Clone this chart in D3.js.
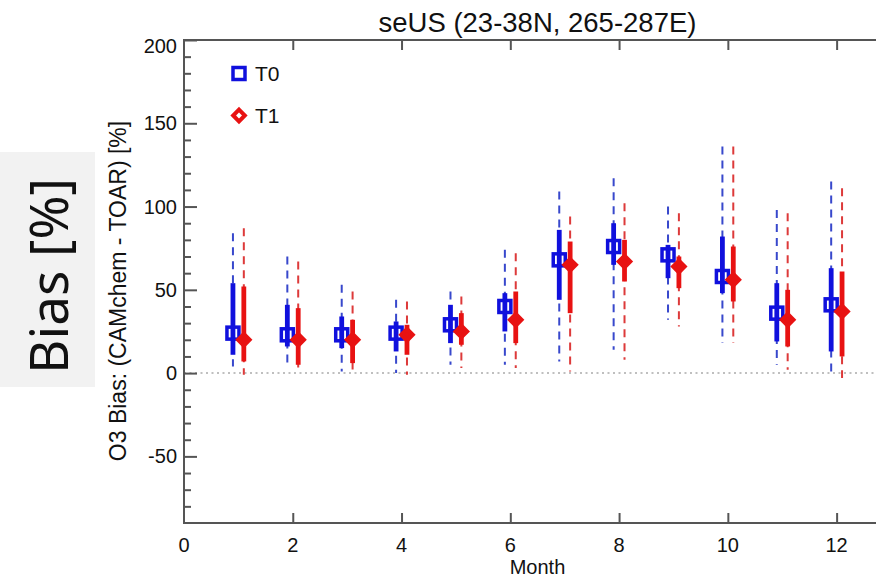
<!DOCTYPE html>
<html>
<head>
<meta charset="utf-8">
<script src="https://cdn.jsdelivr.net/npm/d3@7"></script>
<style>
    body { margin: 0; background: #fff; }
    text { font-family: "Liberation Sans", Arial, Helvetica, sans-serif; }
</style>
</head>
<body>
<div id="chart"></div>
<script>
// values (percent bias)
var months = [1, 2, 3, 4, 5, 6, 7, 8, 9, 10, 11, 12];
var t0Mid = [24, 23, 23, 24, 29, 40, 68, 76, 71, 58, 36, 41];
var t0Q1 = [11, 16, 15, 13, 18, 25, 44, 65, 57, 48, 19, 13];
var t0Q3 = [54, 41, 34, 31, 41, 48, 86, 90, 77, 82, 54, 63];
var t0Lo = [4, 5, 1, 0, 5, 5, 7, 14, 32, 18, 5, 0];
var t0Hi = [84, 70, 53, 44, 49, 74, 109, 117, 100, 136, 98, 115];

var t1Mid = [20, 20, 20, 23, 25, 32, 65, 67, 64, 56, 32, 37];
var t1Q1 = [7, 5, 6, 11, 17, 18, 36, 55, 51, 43, 16, 10];
var t1Q3 = [52, 39, 32, 29, 36, 49, 79, 80, 70, 76, 50, 61];
var t1Lo = [-1, 3, -1, -1, 3, 3, 1, 8, 28, 18, 2, -3];
var t1Hi = [87, 67, 49, 43, 46, 72, 94, 102, 96, 136, 96, 111];

var xTicks = [0, 2, 4, 6, 8, 10, 12];
var yTicks = [-50, 0, 50, 100, 150, 200];

const W = 876, H = 577;
const margin = {top: 40, left: 184},
    width = 707,
    height = 483;

const svg = d3.select("#chart")
    .append("svg")
    .attr("width", W)
    .attr("height", H);

const x = d3.scaleLinear().domain([0, 13]).range([margin.left, margin.left + width]);
const y = d3.scaleLinear().domain([-90, 200]).range([margin.top + height, margin.top]);

const axisColor = "#555";

// grey label box on the left
svg.append("rect")
    .attr("x", 0).attr("y", 152)
    .attr("width", 95).attr("height", 235)
    .attr("fill", "#f2f2f2");
svg.append("text")
    .attr("transform", "translate(68,276) rotate(-90)")
    .attr("text-anchor", "middle")
    .style("font-family", "'Noto Sans', 'Open Sans', sans-serif")
    .attr("font-size", "53px")
    .attr("fill", "#111")
    .text("Bias [%]");

// zero line
svg.append("line")
    .attr("x1", x(0)).attr("x2", W)
    .attr("y1", y(0)).attr("y2", y(0))
    .attr("stroke", "#aaa")
    .attr("stroke-width", 1.5)
    .attr("stroke-dasharray", "2,3.5");

// axes
svg.append("g")
    .attr("transform", `translate(${x(0)},0)`)
    .call(d3.axisRight(y).tickValues(yTicks).tickSize(13).tickFormat(""));
svg.append("g")
    .attr("transform", `translate(${x(0)},0)`)
    .call(d3.axisRight(y).tickValues(d3.range(-80, 200, 10).filter(v => v % 50 != 0)).tickSize(7).tickFormat(""));

svg.append("g")
    .attr("transform", `translate(0,${y(-90)})`)
    .call(d3.axisTop(x).tickValues(xTicks.slice(1)).tickSize(10).tickFormat(""));
svg.append("g")
    .attr("transform", `translate(0,${y(200)})`)
    .call(d3.axisBottom(x).tickValues(xTicks.slice(1)).tickSize(10).tickFormat(""));

svg.selectAll(".domain").remove();
svg.selectAll(".tick line").attr("stroke", axisColor).attr("stroke-width", 2);

// frame
svg.append("path")
    .attr("d", `M${W},${y(200)}H${x(0)}V${y(-90)}H${W}`)
    .attr("fill", "none")
    .attr("stroke", axisColor)
    .attr("stroke-width", 2);

// tick labels
svg.selectAll(".ylab")
    .data(yTicks)
    .enter()
    .append("text")
    .attr("class", "ylab")
    .attr("x", x(0) - 7)
    .attr("y", d => y(d) + (d == 200 ? 13 : 7))
    .attr("text-anchor", "end")
    .attr("font-size", "20px")
    .attr("fill", "#111")
    .text(d => d);

svg.selectAll(".xlab")
    .data(xTicks)
    .enter()
    .append("text")
    .attr("class", "xlab")
    .attr("x", d => x(d))
    .attr("y", 552)
    .attr("text-anchor", "middle")
    .attr("font-size", "20px")
    .attr("fill", "#111")
    .text(d => d);

svg.append("text")
    .attr("x", x(0) + width / 2)
    .attr("y", 574)
    .attr("text-anchor", "middle")
    .attr("font-size", "20px")
    .attr("fill", "#111")
    .text("Month");

svg.append("text")
    .attr("transform", "translate(126,291) rotate(-90)")
    .attr("text-anchor", "middle")
    .attr("font-size", "23px")
    .attr("fill", "#111")
    .text("O3 Bias: (CAMchem - TOAR) [%]");

svg.append("text")
    .attr("x", x(0) + width / 2)
    .attr("y", 32)
    .attr("text-anchor", "middle")
    .attr("font-size", "27.5px")
    .attr("fill", "#111")
    .text("seUS (23-38N, 265-287E)");

// series
const blue = "#1010dd", red = "#e81212";
const series = [
    {name: "T0", mid: t0Mid, q1: t0Q1, q3: t0Q3, lo: t0Lo, hi: t0Hi, off: -0.1, color: blue, dash: "#3848cc", shape: "square"},
    {name: "T1", mid: t1Mid, q1: t1Q1, q3: t1Q3, lo: t1Lo, hi: t1Hi, off: 0.1, color: red, dash: "#dd3a3a", shape: "diamond"}
];

function marker(g, shape, color, solid) {
    if (shape == "square") {
        g.append("rect")
            .attr("x", -6).attr("y", -6)
            .attr("width", 12).attr("height", 12)
            .attr("fill", "none")
            .attr("stroke", color)
            .attr("stroke-width", 3.5);
    } else {
        g.append("path")
            .attr("d", "M0,-5.8L5.8,0L0,5.8L-5.8,0Z")
            .attr("fill", solid ? color : "none")
            .attr("stroke", color)
            .attr("stroke-width", 4)
            .attr("stroke-linejoin", "miter");
    }
}

series.forEach(function (s) {
    const g = svg.append("g");
    g.selectAll(".whisker")
        .data(months)
        .enter()
        .append("line")
        .attr("x1", (d) => x(d + s.off))
        .attr("x2", (d) => x(d + s.off))
        .attr("y1", (d, i) => y(s.hi[i]))
        .attr("y2", (d, i) => y(s.lo[i]))
        .attr("stroke", s.dash)
        .attr("stroke-width", 2)
        .attr("stroke-dasharray", "8,6");
    g.selectAll(".box")
        .data(months)
        .enter()
        .append("line")
        .attr("x1", (d) => x(d + s.off))
        .attr("x2", (d) => x(d + s.off))
        .attr("y1", (d, i) => y(s.q3[i]))
        .attr("y2", (d, i) => y(s.q1[i]))
        .attr("stroke", s.color)
        .attr("stroke-width", 4.8);
    months.forEach(function (d, i) {
        const m = g.append("g").attr("transform", `translate(${x(d + s.off)},${y(s.mid[i])})`);
        marker(m, s.shape, s.color, true);
    });
});

// legend
series.forEach(function (s, i) {
    const ly = 73.5 + i * 42;
    const m = svg.append("g").attr("transform", `translate(239,${ly})`);
    marker(m, s.shape, s.color, false);
    svg.append("text")
        .attr("x", 255)
        .attr("y", ly + 7.5)
        .attr("font-size", "21px")
        .attr("fill", "#111")
        .text(s.name);
});
</script>
</body>
</html>
